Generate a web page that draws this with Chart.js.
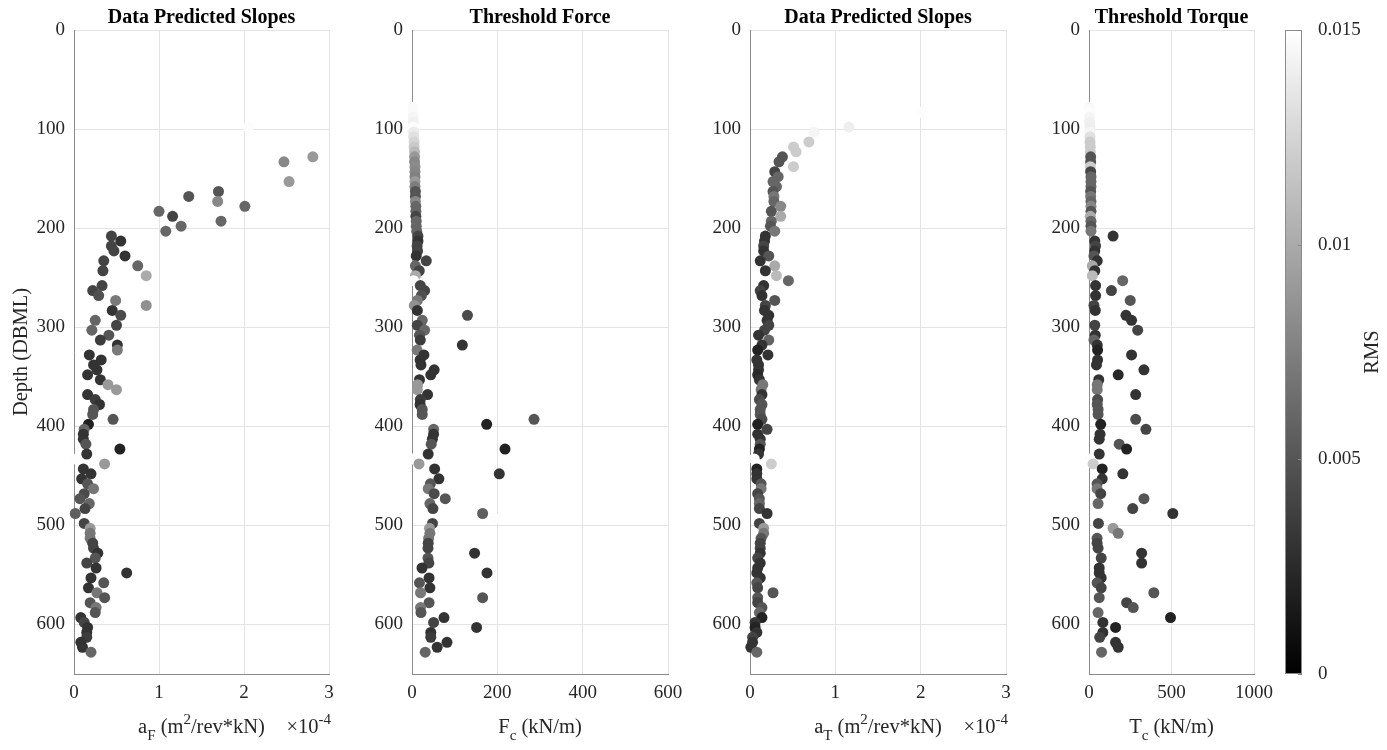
<!DOCTYPE html>
<html>
<head>
<meta charset="utf-8">
<script src="https://cdn.jsdelivr.net/npm/chart.js@4.4.0/dist/chart.umd.min.js"></script>
<style>
  html, body { margin: 0; padding: 0; background: #fff; }
  #wrap { position: relative; width: 1387px; height: 750px; }
  canvas { position: absolute; left: 0; top: 0; }
</style>
</head>
<body>
<div id="wrap">
  <canvas id="p1" width="1387" height="750"></canvas>
  <canvas id="p2" width="1387" height="750"></canvas>
  <canvas id="p3" width="1387" height="750"></canvas>
  <canvas id="p4" width="1387" height="750"></canvas>
  <canvas id="cb" width="1387" height="750"></canvas>
</div>
<script>
// depth of each fitted interval (m)
const depths = [
  78, 83, 88, 93, 98, 103, 108, 113, 118, 123,
  128, 133, 138, 143, 148, 153, 158, 163, 168, 173,
  178, 183, 188, 193, 198, 203, 208, 213, 218, 223,
  228, 233, 238, 243, 248, 253, 258, 263, 268, 273,
  278, 283, 288, 293, 298, 303, 308, 313, 318, 323,
  328, 333, 338, 343, 348, 353, 358, 363, 368, 373,
  378, 383, 388, 393, 398, 403, 408, 413, 418, 423,
  428, 433, 438, 443, 448, 453, 458, 463, 468, 473,
  478, 483, 488, 493, 498, 503, 508, 513, 518, 523,
  528, 533, 538, 543, 548, 553, 558, 563, 568, 573,
  578, 583, 588, 593, 598, 603, 608, 613, 618, 623,
  628
];

// force fit: slope aF (x1e-4), threshold Fc (kN/m), RMS
const aF = [
  null, null, null, null, 2.05, null, null, null, null, null,
  2.81, 2.47, null, null, null, 2.53, null, 1.70, 1.35, 1.69,
  2.01, 1.00, 1.16, 1.73, 1.26, 1.08, 0.44, 0.55, 0.44, 0.47,
  0.60, 0.35, 0.75, 0.34, 0.85, null, 0.33, 0.22, 0.29, 0.49,
  0.85, 0.45, 0.55, 0.25, 0.50, 0.21, 0.41, 0.31, 0.51, 0.51,
  0.18, 0.32, 0.23, 0.27, 0.16, 0.31, 0.40, 0.50, 0.16, 0.25,
  0.30, 0.23, 0.22, 0.46, 0.17, 0.12, 0.11, 0.11, 0.14, 0.54,
  0.15, 0.02, 0.36, 0.11, 0.20, 0.09, 0.16, 0.23, 0.12, 0.07,
  0.18, 0.13, 0.015, null, 0.12, 0.19, 0.19, 0.19, 0.22, 0.23,
  0.28, 0.25, 0.15, 0.26, 0.62, 0.20, 0.35, 0.17, 0.27, 0.36,
  0.19, 0.26, 0.25, 0.08, 0.12, 0.16, 0.15, 0.15, 0.08, 0.10,
  0.20
];
const Fc = [
  2, 2, 3, 3, 3, 4, 4, 5, 5, 6,
  6, 6, 7, 7, 7, 7, 7, 8, 8, 8,
  9, 9, 9, 10, 10, 11, 14, 14, 12, 13,
  10, 33.5, 8, 17, 8, 4, 19.5, 29.5, 22, 12.5,
  5.4, 12.5, 130, 24, 12.5, 29.5, 17.5, 19.5, 118, 12,
  28, 19, 21, 52, 44, 17.5, 13, 12.5, 36.5, 19.5,
  19, 24, 24, 286, 175, 50.6, 50.6, 47.7, 45, 218,
  38, 1, 16.4, 53, 204.6, 63, 43, 38, 52, 78,
  42, 49, 165.5, 195, 48, 41, 42, 39, 38, 37.5,
  146.7, 37.5, 39.5, 23.5, 175.8, 40, 17.5, 42, 20, 165.5,
  40, 20, 21, 75, 50.6, 151.4, 44, 44, 82, 59,
  31
];
const rmsF = [
  0.0147, 0.0147, 0.0144, 0.0141, 0.0149, 0.0138, 0.0132, 0.0126, 0.0118, 0.0109,
  0.009, 0.008, 0.0082, 0.0079, 0.0076, 0.009, 0.0074, 0.005, 0.005, 0.008,
  0.006, 0.006, 0.004, 0.006, 0.006, 0.006, 0.004, 0.003, 0.004, 0.004,
  0.003, 0.004, 0.006, 0.004, 0.010, 0.0147, 0.004, 0.004, 0.0047, 0.0071,
  0.0085, 0.003, 0.0044, 0.006, 0.004, 0.006, 0.005, 0.0035, 0.003, 0.0071,
  0.003, 0.003, 0.003, 0.003, 0.003, 0.003, 0.009, 0.009, 0.003, 0.0035,
  0.003, 0.005, 0.005, 0.005, 0.002, 0.006, 0.003, 0.003, 0.005, 0.002,
  0.003, 0.0149, 0.009, 0.003, 0.003, 0.003, 0.005, 0.007, 0.0044, 0.005,
  0.006, 0.004, 0.0056, 0.0149, 0.004, 0.009, 0.007, 0.007, 0.004, 0.004,
  0.003, 0.005, 0.004, 0.003, 0.003, 0.003, 0.005, 0.003, 0.007, 0.005,
  0.005, 0.007, 0.005, 0.003, 0.004, 0.003, 0.003, 0.0035, 0.003, 0.003,
  0.006
];

// torque fit: slope aT (x1e-4), threshold Tc (kN/m), RMS
const aT = [
  null, 2.0, null, null, 1.16, 0.75, null, 0.69, 0.51, 0.54,
  0.38, 0.34, 0.51, 0.29, 0.33, 0.27, 0.31, 0.27, 0.28, 0.28,
  0.36, 0.25, 0.36, 0.25, 0.24, 0.29, 0.18, 0.17, 0.16, 0.16,
  0.22, 0.12, 0.29, 0.18, 0.31, 0.45, 0.16, 0.12, 0.14, 0.29,
  0.18, 0.17, 0.22, 0.20, 0.22, 0.17, 0.10, 0.22, 0.14, 0.09,
  0.21, 0.08, 0.10, 0.10, 0.09, 0.11, 0.15, 0.13, 0.14, 0.11,
  0.14, 0.12, 0.12, 0.14, 0.09, 0.20, 0.09, 0.12, 0.12, 0.11,
  0.10, 0.05, 0.25, 0.08, 0.08, 0.08, 0.13, 0.13, 0.09, 0.11,
  0.11, 0.11, 0.20, null, 0.11, 0.16, 0.16, 0.13, 0.12, 0.12,
  0.12, 0.09, 0.12, 0.09, 0.08, 0.12, 0.08, 0.09, 0.27, 0.09,
  0.09, 0.14, 0.11, 0.14, 0.06, 0.06, 0.08, 0.03, 0.03, 0.01,
  0.08
];
const Tc = [
  2, 2, 3, 3, 5, 5, 6, 6, 8, 8,
  10, 10, 8, 10, 12, 12, 12, 10, 10, 12,
  12, 12, 8, 12, 12, 12, 146, 35, 40, 35,
  30, 50, 20, 35, 20, 204, 40, 136, 40, 250,
  30, 38, 224, 258, 35, 295, 38, 30, 50, 52,
  258, 52, 45, 333, 177, 59, 50, 50, 283, 52,
  50, 55, 55, 283, 71, 345, 67, 62, 183, 228,
  62, 5, 25, 80, 205, 80, 49, 49, 71, 333,
  55, 265, 508, null, 57, 146, 177, 49, 49, 55,
  319, 74, 319, 62, 62, 74, 49, 74, 393, 62,
  228, 268, 55, 494, 84, 161, 84, 65, 161, 177,
  76
];
const rmsT = [
  0.0147, 0.0149, 0.0144, 0.0141, 0.014, 0.0144, 0.0132, 0.012, 0.012, 0.012,
  0.005, 0.005, 0.012, 0.004, 0.006, 0.006, 0.006, 0.005, 0.007, 0.006,
  0.008, 0.005, 0.010, 0.006, 0.005, 0.007, 0.003, 0.003, 0.004, 0.003,
  0.005, 0.003, 0.010, 0.003, 0.011, 0.006, 0.003, 0.004, 0.003, 0.005,
  0.004, 0.003, 0.003, 0.003, 0.004, 0.004, 0.003, 0.0059, 0.003, 0.002,
  0.003, 0.003, 0.003, 0.003, 0.0024, 0.003, 0.007, 0.007, 0.003, 0.0044,
  0.005, 0.005, 0.005, 0.0044, 0.002, 0.004, 0.003, 0.003, 0.005, 0.002,
  0.003, 0.0149, 0.012, 0.002, 0.003, 0.003, 0.005, 0.007, 0.004, 0.005,
  0.006, 0.004, 0.003, 0.0149, 0.004, 0.009, 0.007, 0.005, 0.004, 0.004,
  0.003, 0.004, 0.003, 0.003, 0.003, 0.003, 0.005, 0.004, 0.005, 0.005,
  0.004, 0.005, 0.006, 0.002, 0.003, 0.002, 0.003, 0.004, 0.003, 0.003,
  0.006
];

const depthTicks = [0, 100, 200, 300, 400, 500, 600];
const slopeTicks = [0, 1, 2, 3];
const fcTicks = [0, 200, 400, 600];
const tcTicks = [0, 500, 1000];
const rmsTicks = [0, 0.005, 0.01, 0.015];
const RMS_MAX = 0.015;

const SERIF = '"Liberation Serif", "Times New Roman", serif';
const W = 1387, H = 750;
const TOP = 30, BOTTOM = 674;
const Y_AXIS_W = 60, X_AXIS_H = 40;
const TICK_PX = 19, LABEL_PX = 20.5;

function gray(r) {
  const v = Math.round(Math.max(0, Math.min(1, r / RMS_MAX)) * 255);
  return 'rgb(' + v + ',' + v + ',' + v + ')';
}

// draw text made of normal / sub / sup pieces
function drawRich(ctx, parts, x, y, align, size) {
  const small = Math.round(size * 0.72);
  let total = 0;
  parts.forEach(p => {
    ctx.font = (p.sub || p.sup ? small : size) + 'px ' + SERIF;
    p.w = ctx.measureText(p.t).width;
    total += p.w;
  });
  let cx = align === 'center' ? x - total / 2 : (align === 'right' ? x - total : x);
  ctx.textAlign = 'left';
  ctx.textBaseline = 'alphabetic';
  parts.forEach(p => {
    ctx.font = (p.sub || p.sup ? small : size) + 'px ' + SERIF;
    const dy = p.sub ? size * 0.32 : (p.sup ? -size * 0.45 : 0);
    ctx.fillText(p.t, cx, y + dy);
    cx += p.w;
  });
}

const panelText = {
  id: 'panelText',
  afterDraw(chart, args, opts) {
    const ctx = chart.ctx, a = chart.chartArea;
    const mid = (a.left + a.right) / 2;
    ctx.save();
    if (opts.title) {
      ctx.fillStyle = '#000';
      ctx.font = 'bold 20px ' + SERIF;
      ctx.textAlign = 'center';
      ctx.textBaseline = 'alphabetic';
      ctx.fillText(opts.title, mid, 23);
    }
    ctx.fillStyle = '#262626';
    if (opts.xlabel) drawRich(ctx, opts.xlabel, mid, 733, 'center', LABEL_PX);
    if (opts.expo) drawRich(ctx, opts.expo, a.right + 2, 733, 'right', LABEL_PX);
    if (opts.ylabel) {
      ctx.translate(27, (a.top + a.bottom) / 2);
      ctx.rotate(-Math.PI / 2);
      ctx.font = LABEL_PX + 'px ' + SERIF;
      ctx.textAlign = 'center';
      ctx.textBaseline = 'alphabetic';
      ctx.fillText(opts.ylabel, 0, 0);
    }
    ctx.restore();
  }
};

function makePanel(id, xs, rms, xmin, xmax, xTicks, left, right, text) {
  const pts = [], cols = [];
  depths.forEach((d, i) => {
    if (xs[i] === null) return;
    pts.push({ x: xs[i], y: d });
    cols.push(gray(rms[i]));
  });
  return new Chart(document.getElementById(id), {
    type: 'scatter',
    data: {
      datasets: [{
        data: pts,
        backgroundColor: cols,
        borderWidth: 0,
        pointRadius: 5.5,
        pointHoverRadius: 5.5,
        clip: false
      }]
    },
    options: {
      responsive: false,
      animation: false,
      events: [],
      layout: {
        padding: {
          left: left - Y_AXIS_W,
          right: W - right,
          top: TOP,
          bottom: H - BOTTOM - X_AXIS_H
        }
      },
      plugins: {
        legend: { display: false },
        tooltip: { enabled: false },
        panelText: text
      },
      scales: {
        x: {
          type: 'linear',
          min: xmin,
          max: xmax,
          afterBuildTicks: s => { s.ticks = xTicks.map(v => ({ value: v })); },
          afterFit: s => { s.height = X_AXIS_H; },
          grid: { color: '#e4e4e4', drawTicks: false },
          border: { color: '#8a8a8a', width: 1 },
          ticks: {
            padding: 8, color: '#262626', font: { family: SERIF, size: TICK_PX },
            callback: v => String(v)
          }
        },
        y: {
          type: 'linear',
          reverse: true,
          min: 0,
          max: 650,
          afterBuildTicks: s => { s.ticks = depthTicks.map(v => ({ value: v })); },
          afterFit: s => { s.width = Y_AXIS_W; },
          grid: { color: '#e4e4e4', drawTicks: false },
          border: { color: '#8a8a8a', width: 1 },
          ticks: {
            padding: 9, color: '#262626', font: { family: SERIF, size: TICK_PX },
            callback: v => String(v)
          }
        }
      }
    },
    plugins: [panelText]
  });
}

const slopeLabel = sub => [
  { t: 'a' }, { t: sub, sub: true }, { t: ' (m' }, { t: '2', sup: true }, { t: '/rev*kN)' }
];
const expoLabel = [{ t: '\u00d710' }, { t: '-4', sup: true }];

makePanel('p1', aF, rmsF, 0, 3, slopeTicks, 74, 329, {
  title: 'Data Predicted Slopes', xlabel: slopeLabel('F'), expo: expoLabel, ylabel: 'Depth (DBML)'
});
makePanel('p2', Fc, rmsF, 0, 600, fcTicks, 412, 668, {
  title: 'Threshold Force', xlabel: [{ t: 'F' }, { t: 'c', sub: true }, { t: ' (kN/m)' }]
});
makePanel('p3', aT, rmsT, 0, 3, slopeTicks, 750, 1006, {
  title: 'Data Predicted Slopes', xlabel: slopeLabel('T'), expo: expoLabel
});
makePanel('p4', Tc, rmsT, 0, 1000, tcTicks, 1089, 1254, {
  title: 'Threshold Torque', xlabel: [{ t: 'T' }, { t: 'c', sub: true }, { t: ' (kN/m)' }]
});

// colorbar
const colorbar = {
  id: 'colorbar',
  beforeDatasetsDraw(chart) {
    const ctx = chart.ctx, a = chart.chartArea;
    const g = ctx.createLinearGradient(0, a.bottom, 0, a.top);
    g.addColorStop(0, '#000');
    g.addColorStop(1, '#fff');
    ctx.save();
    ctx.fillStyle = g;
    ctx.fillRect(a.left, a.top, a.right - a.left, a.bottom - a.top);
    ctx.strokeStyle = '#8a8a8a';
    ctx.lineWidth = 1;
    ctx.strokeRect(a.left + 0.5, a.top + 0.5, a.right - a.left - 1, a.bottom - a.top - 1);
    const ys = chart.scales.y;
    rmsTicks.forEach(v => {
      const y = Math.round(ys.getPixelForValue(v)) + 0.5;
      ctx.beginPath();
      ctx.moveTo(a.right - 4, y);
      ctx.lineTo(a.right, y);
      ctx.stroke();
    });
    ctx.fillStyle = '#262626';
    ctx.translate(1373, (a.top + a.bottom) / 2);
    ctx.rotate(-Math.PI / 2);
    ctx.font = LABEL_PX + 'px ' + SERIF;
    ctx.textAlign = 'center';
    ctx.textBaseline = 'middle';
    ctx.fillText('RMS', 0, 0);
    ctx.restore();
  }
};

new Chart(document.getElementById('cb'), {
  type: 'scatter',
  data: { datasets: [{ data: [] }] },
  options: {
    responsive: false,
    animation: false,
    events: [],
    layout: { padding: { left: 1285, right: W - 1302 - Y_AXIS_W, top: TOP, bottom: H - BOTTOM } },
    plugins: { legend: { display: false }, tooltip: { enabled: false } },
    scales: {
      x: { display: false, min: 0, max: 1 },
      y: {
        position: 'right',
        min: 0,
        max: RMS_MAX,
        afterBuildTicks: s => { s.ticks = rmsTicks.map(v => ({ value: v })); },
        afterFit: s => { s.width = Y_AXIS_W; },
        grid: { display: false },
        border: { display: false },
        ticks: {
          padding: 8,
          color: '#262626',
          font: { family: SERIF, size: TICK_PX },
          callback: v => String(+v.toFixed(3))
        }
      }
    }
  },
  plugins: [colorbar]
});
</script>
</body>
</html>
